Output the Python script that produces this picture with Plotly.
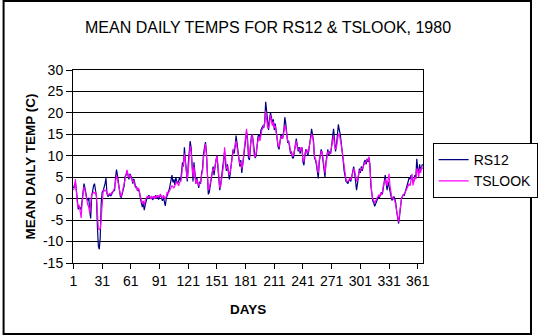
import plotly.graph_objects as go

days = list(range(1, 367))

rs12 = [
    2.5, 3.0, 3.8, 2.0, -1.5, -2.5, -1.8, -2.2, -2.6, -0.5,
    2.0, 3.5, 2.5, 1.0, 0.0, -0.3, 0.2, -3.0, -4.6, 0.5,
    2.0, 3.0, 3.5, 2.0, 0.5, -6.5, -11.0, -11.8, -9.0, -1.0,
    1.5, 1.8, 2.5, 3.5, 4.8, 1.2, 0.5, 0.8, 1.0, 0.6,
    1.2, 1.5, 1.8, 2.0, 5.0, 6.8, 5.5, 3.5, 1.0, 0.5,
    0.3, 1.5, 2.5, 3.0, 5.2, 5.5, 6.5, 5.0, 4.5, 5.8,
    5.2, 4.8, 3.5, 4.6, 3.8, 2.5, 2.8, 1.8, 2.2, 1.5,
    0.0, -1.5, -2.0, -1.0, -2.7, -1.5, 0.0, 0.3, 0.5, 0.8,
    0.0, 0.4, 0.2, -0.3, 0.5, 0.2, 0.8, 0.0, 0.5, -0.2,
    0.6, 0.8, 0.3, -0.5, 0.4, -1.0, -1.7, 0.0, 1.2, 1.5,
    2.0, 3.5, 4.8, 5.5, 3.8, 4.5, 3.2, 5.0, 4.0, 3.5,
    4.2, 5.0, 4.0, 6.0, 8.5, 7.5, 12.0, 9.0, 6.5, 4.0,
    8.0, 10.5, 13.4, 12.0, 6.0, 4.0, 8.5, 5.5, 3.5, 4.8,
    3.0, 2.5, 4.0, 3.5, 6.0, 7.0, 10.5, 12.5, 13.2, 11.0,
    6.0, 1.0, 1.5, 3.0, 4.5, 6.0, 7.5, 5.5, 8.0, 9.0,
    10.0, 7.0, 4.5, 2.0, 3.5, 5.5, 6.5, 8.5, 11.0, 8.0,
    6.5, 8.0, 5.5, 4.5, 6.0, 9.0, 10.0, 11.5, 10.5, 12.0,
    14.7, 13.0, 11.0, 8.5, 7.5, 9.0, 6.0, 8.0, 10.0, 12.0,
    13.5, 15.5, 14.0, 9.5, 9.0, 12.0, 14.5, 15.0, 13.0, 11.0,
    9.5, 10.0, 13.0, 14.5, 15.0, 14.0, 16.0, 16.5, 17.0, 16.5,
    18.0, 22.6, 20.0, 17.0, 16.0, 18.5, 20.0, 19.0, 17.5, 18.5,
    16.0, 17.5, 15.5, 14.0, 12.0, 11.5, 13.5, 15.0, 14.0, 14.5,
    16.0, 19.0, 17.5, 14.0, 13.0, 13.5, 12.0, 10.5, 11.0, 9.5,
    9.5, 11.0, 13.0, 14.0, 12.5, 11.0, 12.0, 10.5, 11.5, 12.0,
    8.5, 7.8, 10.0, 11.5, 11.0, 10.0, 11.0, 13.5, 14.5, 16.3,
    15.0, 13.5, 9.5, 9.0, 8.0, 6.0, 4.7, 8.5, 10.0, 11.5,
    10.5, 9.0, 7.0, 5.0, 8.5, 10.5, 11.5, 10.0, 11.0, 10.5,
    12.0, 14.5, 16.3, 12.0, 11.0, 12.5, 15.5, 17.3, 16.0, 15.0,
    13.0, 11.5, 9.0, 6.5, 5.0, 4.0, 3.8, 3.5, 4.2, 4.5,
    4.0, 5.0, 6.5, 7.5, 6.0, 4.0, 2.0, 3.5, 5.5, 7.0,
    6.0, 7.5, 6.5, 8.0, 8.5, 9.0, 8.0, 9.3, 8.5, 9.5,
    8.0, 3.0, 0.5, -0.5, -1.0, -1.8, -1.2, -0.5, 0.0, 0.5,
    0.3, 1.0, 1.5, 1.0, 2.5, 4.5, 5.5, 3.5, 2.0, 4.0,
    3.0, 2.0, 0.5, -0.4, 0.0, 0.5, 0.0, -1.0, -3.0, -5.0,
    -5.8, -4.0, -1.0, 0.0, 0.5, 1.0, 0.8, 1.5, 2.5, 3.0,
    4.0, 5.0, 4.5, 5.5, 4.5, 3.8, 4.2, 5.5, 5.0, 9.3,
    7.0, 5.8, 8.0, 6.5, 7.5, 8.0,
]

tslook = [
    2.0, 2.5, 4.6, 1.5, -1.0, -2.0, -1.5, -3.0, -4.5, -1.0,
    1.5, 2.8, 2.0, 0.5, 0.0, -1.5, -2.0, -3.5, -1.0, 1.0,
    1.2, 1.5, 1.3, 1.5, 0.8, -3.5, -7.0, -7.2, -7.0, -4.5,
    0.0, 1.5, 2.0, 1.8, 2.0, 1.5, 0.8, 1.0, 1.2, 1.0,
    1.5, 1.5, 2.0, 2.5, 4.0, 5.4, 4.5, 3.0, 1.5, 1.0,
    0.5, 2.0, 2.5, 3.5, 4.5, 5.5, 6.7, 5.5, 5.0, 5.5,
    5.0, 4.5, 4.0, 4.2, 3.0, 2.8, 2.5, 2.0, 2.5, 1.0,
    0.5, -0.5, -1.0, -0.5, -1.5, -0.5, 0.2, 0.5, 0.3, 0.5,
    0.3, 0.0, 0.5, 0.2, 0.6, 0.0, 0.5, 0.2, 0.8, 0.3,
    0.8, 1.0, 0.5, 0.0, 0.8, 0.5, 0.0, 0.5, 1.5, 1.2,
    1.6, 2.0, 2.5, 3.0, 2.8, 2.5, 3.0, 3.5, 4.0, 3.5,
    3.0, 3.8, 4.0, 5.0, 7.5, 8.0, 10.5, 8.5, 7.0, 4.5,
    6.5, 9.5, 12.4, 11.0, 7.0, 5.0, 7.5, 6.0, 3.5, 4.5,
    3.5, 3.0, 3.5, 4.0, 5.5, 6.5, 9.5, 12.0, 12.8, 10.5,
    7.0, 2.0, 2.5, 3.5, 5.0, 5.5, 7.0, 6.5, 7.5, 8.5,
    10.0, 8.0, 5.0, 2.5, 3.0, 5.0, 6.5, 8.0, 12.0, 9.0,
    7.0, 7.5, 6.5, 5.5, 6.5, 8.5, 9.5, 11.0, 11.5, 12.5,
    13.5, 12.0, 10.5, 9.0, 8.0, 8.5, 7.0, 8.0, 11.0, 12.5,
    14.5, 16.3, 13.0, 10.5, 9.5, 12.5, 14.0, 15.0, 12.5, 10.0,
    9.7, 10.5, 12.5, 14.0, 14.5, 13.5, 15.5, 16.0, 16.5, 17.0,
    17.5, 20.5, 19.0, 16.5, 16.5, 17.5, 19.5, 18.5, 17.0, 18.0,
    16.5, 17.0, 15.0, 13.5, 12.5, 12.0, 14.0, 14.5, 14.5, 14.0,
    15.5, 17.0, 16.5, 14.5, 13.5, 13.0, 12.5, 11.0, 10.5, 10.0,
    10.0, 11.5, 12.5, 13.5, 12.0, 11.5, 11.5, 11.0, 12.0, 11.5,
    9.0, 8.6, 10.5, 11.0, 11.5, 10.5, 11.5, 13.0, 14.0, 15.0,
    14.5, 13.0, 10.0, 9.5, 8.6, 7.0, 6.0, 9.0, 10.5, 11.0,
    11.0, 9.5, 8.0, 6.0, 8.0, 10.0, 11.0, 10.5, 10.5, 11.0,
    12.0, 13.5, 14.7, 12.5, 11.5, 12.0, 14.0, 15.0, 15.0, 14.0,
    12.5, 11.0, 9.5, 7.0, 5.5, 4.5, 4.0, 4.0, 4.3, 4.8,
    4.5, 5.0, 6.0, 7.0, 6.5, 5.0, 4.0, 4.5, 5.5, 6.5,
    6.5, 7.0, 7.0, 7.5, 8.0, 8.5, 8.5, 9.0, 9.0, 9.8,
    7.0, 3.5, 1.0, 0.0, -0.5, -1.0, -0.5, 0.0, 0.3, 0.8,
    0.5, 1.2, 1.0, 1.5, 3.0, 4.0, 4.5, 4.0, 3.0, 4.5,
    5.8, 3.0, 1.0, 0.0, 0.3, 0.0, -0.5, -1.5, -3.0, -4.5,
    -5.5, -3.5, -1.0, 0.0, 0.5, 0.8, 1.0, 1.5, 2.0, 2.5,
    3.0, 3.5, 3.0, 4.5, 5.8, 3.1, 4.5, 5.0, 4.5, 7.0,
    6.5, 5.0, 7.0, 6.0, 7.5, 7.0,
]

x_ticks = [1, 31, 61, 91, 121, 151, 181, 211, 241, 271, 301, 331, 361]
y_ticks = [30, 25, 20, 15, 10, 5, 0, -5, -10, -15]

W, H = 550, 336
L, R, T, B = 73, 114, 70, 73
PW, PH = W - L - R, H - T - B


def px(xp):
    return (xp - L) / PW


def py(yp):
    return (H - B - yp) / PH


FONT = "Arial, Liberation Sans, sans-serif"

fig = go.Figure()
fig.add_trace(go.Scatter(x=days, y=rs12, mode="lines", name="RS12",
                         line=dict(color="#000080", width=1.2)))
fig.add_trace(go.Scatter(x=days, y=tslook, mode="lines", name="TSLOOK",
                         line=dict(color="#FF00FF", width=1.2)))

fig.update_layout(
    width=W, height=H,
    margin=dict(l=L, r=R, t=T, b=B),
    paper_bgcolor="white", plot_bgcolor="white",
    font=dict(family=FONT, size=14, color="black"),
    showlegend=True,
    legend=dict(x=px(446), y=py(143), xanchor="left", yanchor="top",
                bordercolor="black", borderwidth=1, bgcolor="white",
                font=dict(size=14, family=FONT), itemwidth=30,
                tracegroupgap=0),
    xaxis=dict(range=[0.5, 366.5], tickvals=x_ticks,
               ticktext=[str(v) for v in x_ticks],
               showgrid=False, zeroline=False,
               showline=True, linecolor="black", linewidth=1, mirror=True,
               ticks="outside", ticklen=5, tickcolor="black",
               tickfont=dict(size=14, family=FONT)),
    yaxis=dict(range=[-15, 30], tickvals=y_ticks,
               ticktext=[str(v) for v in y_ticks],
               showgrid=True, gridcolor="black", gridwidth=1,
               zeroline=False,
               showline=True, linecolor="black", linewidth=1, mirror=True,
               ticks="outside", ticklen=6, tickcolor="black",
               tickfont=dict(size=14, family=FONT)),
    annotations=[
        dict(text="MEAN DAILY TEMPS FOR RS12 &amp; TSLOOK, 1980",
             x=px(275), y=py(27), xref="paper", yref="paper",
             xanchor="center", yanchor="middle", showarrow=False,
             font=dict(size=16, family=FONT)),
        dict(text="<b>DAYS</b>", x=px(254), y=py(309), xref="paper",
             yref="paper", xanchor="center", yanchor="middle",
             showarrow=False, font=dict(size=13.5, family=FONT)),
        dict(text="<b>MEAN DAILY TEMP (C)</b>", x=px(28), y=py(167),
             xref="paper", yref="paper", xanchor="center",
             yanchor="middle", showarrow=False, textangle=-90,
             font=dict(size=13.5, family=FONT)),
    ],
    shapes=[
        dict(type="rect", xref="paper", yref="paper",
             x0=px(1), x1=px(548), y0=py(334), y1=py(1),
             line=dict(color="black", width=2), layer="below"),
    ],
)

fig.write_html("out.html")
